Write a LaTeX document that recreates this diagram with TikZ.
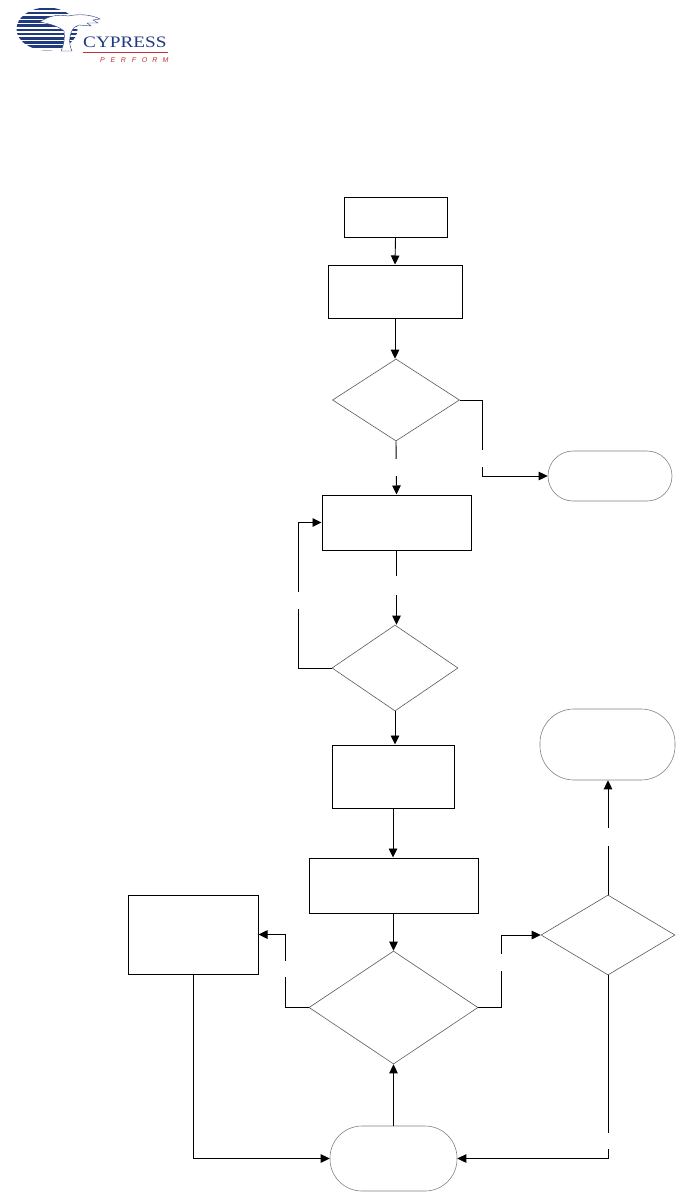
\documentclass[tikz,border=0pt]{standalone}
\usepackage{fontspec}
\setmainfont{Liberation Serif}
\newfontfamily\logosans{Liberation Sans}
\usetikzlibrary{arrows.meta,shapes.geometric}
\definecolor{cyblue}{RGB}{32,58,128}
\definecolor{cyred}{RGB}{196,48,52}
\definecolor{dgray}{RGB}{90,90,90}
\definecolor{lgray}{RGB}{130,130,130}
\tikzset{
  boxnode/.style={draw=black,line width=1pt,rectangle,inner sep=0pt},
  decnode/.style={draw=dgray,line width=0.6pt,diamond,inner sep=0pt},
  termnode/.style={draw=lgray,line width=0.6pt,rectangle,inner sep=0pt},
  conn/.style={draw=black,line width=0.9pt,-{Triangle[length=9pt,width=8.5pt]}},
  gapnode/.style={fill=white,inner sep=0pt,minimum width=5pt}
}
\begin{document}
\begin{tikzpicture}[x=1pt,y=-1pt]
\useasboundingbox (0,0) rectangle (677,1193);
\fill[white] (0,0) rectangle (677,1193);

% ---- logo ----
\begin{scope}
  \clip (47,29) ellipse [x radius=30.5, y radius=21.5];
  \foreach \yy in {7.6,11.8,...,52} {
    \fill[cyblue] (15,\yy) rectangle (82,\yy+2.7);
  }
\end{scope}
\fill[white,draw=cyblue,line width=0.4pt]
  (40,22) .. controls (48,16) and (58,14) .. (68,16)
  .. controls (78,14) and (90,14) .. (100,19)
  -- (93,20) -- (98,23) -- (87,23) -- (91,26) -- (79,25)
  .. controls (73,27) and (71,31) .. (70,37)
  .. controls (69,42) and (70,47) .. (72,51)
  -- (61,51) .. controls (64,45) and (65,38) .. (64,31)
  .. controls (58,26) and (50,24) .. (40,22) -- cycle;
\node[inner sep=0pt,anchor=base west,text=cyblue,font=\fontsize{16}{16}\selectfont,xscale=1.2,transform shape] (cytext) at (83,48) {CYPRESS};
\draw[cyred,line width=0.6pt] (83,52.5) -- (168,52.5);
\foreach \ll [count=\i] in {P,E,R,F,O,R,M} {
  \node[inner sep=0pt,text=cyred,font=\logosans\itshape\fontsize{7}{7}\selectfont] (pf\i) at (92+10.5*\i,60.5) {\ll};
}

% ---- flowchart nodes ----
\node[boxnode,minimum width=103pt,minimum height=40pt] (start) at (395.5,217) {};
\node[boxnode,minimum width=134pt,minimum height=53pt] (b2) at (395,291.5) {};
\node[decnode,minimum width=127pt,minimum height=82pt] (d1) at (396,400) {};
\node[termnode,minimum width=124pt,minimum height=50pt,rounded corners=25pt] (t1) at (610,476) {};
\node[boxnode,minimum width=149pt,minimum height=55pt] (b3) at (396.5,522.5) {};
\node[decnode,minimum width=126pt,minimum height=86pt] (d2) at (395,668) {};
\node[boxnode,minimum width=122pt,minimum height=63pt] (b4) at (393,776.5) {};
\node[termnode,minimum width=135pt,minimum height=71pt,rounded corners=34pt] (t2) at (607.5,744.5) {};
\node[boxnode,minimum width=169pt,minimum height=55pt] (b5) at (393.5,885.5) {};
\node[decnode,minimum width=169pt,minimum height=113pt] (d3) at (393.5,1007.5) {};
\node[boxnode,minimum width=130pt,minimum height=79pt] (b6) at (193,934.5) {};
\node[decnode,minimum width=134pt,minimum height=80pt] (d4) at (608,935) {};
\node[termnode,minimum width=127pt,minimum height=65pt,rounded corners=32pt] (t3) at (393.5,1158.5) {};

% ---- connectors ----
\draw[conn] (start.south) -- (b2.north);
\draw[conn] (b2.south) -- (b2.south |- d1.north);
\draw[conn] (d1.east) -- ++(23,0) |- (t1.west);
\draw[conn] (d1.south) -- (b3.north);
\draw[conn] (b3.south) -- (b3.south |- d2.north);
\draw[conn] (d2.west) -- ++(-33,0) |- (b3.west);
\draw[conn] (d2.south) -- (d2.south |- b4.north);
\draw[conn] (b4.south) -- (b4.south |- b5.north);
\draw[conn] (b5.south) -- (b5.south |- d3.north);
\draw[conn] (d3.west) -- ++(-23,0) |- (b6.east);
\draw[conn] (d3.east) -- ++(23,0) |- (d4.west);
\draw[conn] (d4.north) -- (d4.north |- t2.south);
\draw[conn] (d4.south) |- (t3.east);
\draw[conn] (b6.south) |- (t3.west);
\draw[conn] (t3.north) -- (d3.south);

% ---- label gaps ----
\node[gapnode,minimum height=17pt] (g1) at (482,458.5) {};
\node[gapnode,minimum height=17pt] (g2) at (396,467.5) {};
\node[gapnode,minimum height=19pt] (g3) at (396,585.5) {};
\node[gapnode,minimum height=17pt] (g4) at (299,600.5) {};
\node[gapnode,minimum height=16pt] (g5) at (286,969) {};
\node[gapnode,minimum height=17pt] (g6) at (501,962.5) {};
\node[gapnode,minimum height=18pt] (g7) at (608,837) {};
\node[gapnode,minimum height=16pt] (g8) at (608,1141) {};
\end{tikzpicture}
\end{document}
